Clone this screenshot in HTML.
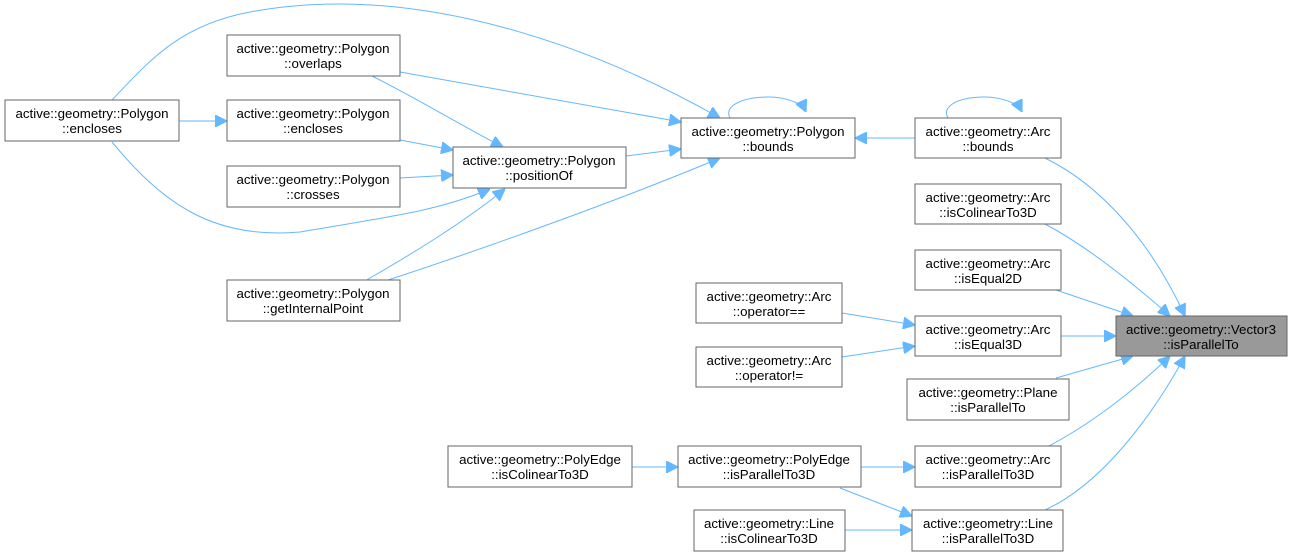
<!DOCTYPE html>
<html><head><meta charset="utf-8"><style>
html,body{margin:0;padding:0;background:#fff;}
svg{display:block;}
text{font-family:"Liberation Sans",Arial,sans-serif;font-size:13.3px;fill:#000;text-anchor:middle;}
.n{fill:#fff;stroke:#666;stroke-width:1;}
.e{fill:none;stroke:#63b8ff;stroke-width:1;}
</style></head><body>
<svg width="1293" height="556" viewBox="0 0 1293 556" xmlns="http://www.w3.org/2000/svg">
<defs><marker id="a" viewBox="0 0 10 10" refX="10" refY="5" markerWidth="12" markerHeight="12" markerUnits="userSpaceOnUse" orient="auto"><path d="M0,0 L10,5 L0,10 z" fill="#63b8ff" stroke="#63b8ff"/></marker></defs>
<g class="e">
<path d="M1045,158 C1100,185 1150,240 1185,316" marker-end="url(#a)"/>
<path d="M1045,224 C1090,248 1135,285 1170,316" marker-end="url(#a)"/>
<path d="M1056,290 L1133,316" marker-end="url(#a)"/>
<path d="M1061,336 L1116,336" marker-end="url(#a)"/>
<path d="M1056,378 L1133,356" marker-end="url(#a)"/>
<path d="M1045,448 C1090,425 1135,390 1170,356" marker-end="url(#a)"/>
<path d="M1045,510 C1100,485 1150,420 1185,356" marker-end="url(#a)"/>
<path d="M948,118 C935,95 1010,88 1022,112" marker-end="url(#a)"/>
<path d="M915,138 L855,138" marker-end="url(#a)"/>
<path d="M730,118 C718,95 795,88 806,112" marker-end="url(#a)"/>
<path d="M626,156 L681,149" marker-end="url(#a)"/>
<path d="M400,72 L681,122" marker-end="url(#a)"/>
<path d="M112,100 C150,60 180,25 250,12 C420,-20 600,50 720,118" marker-end="url(#a)"/>
<path d="M385,281 C480,250 620,200 720,158" marker-end="url(#a)"/>
<path d="M372,76 C420,100 460,125 503,147" marker-end="url(#a)"/>
<path d="M400,140 L453,150" marker-end="url(#a)"/>
<path d="M400,178 L453,175" marker-end="url(#a)"/>
<path d="M112,142 C160,200 210,240 300,232 C400,215 440,210 490,189" marker-end="url(#a)"/>
<path d="M365,281 C410,255 460,225 505,189" marker-end="url(#a)"/>
<path d="M179,121 L227,121" marker-end="url(#a)"/>
<path d="M842,313 L915,325" marker-end="url(#a)"/>
<path d="M842,357 L915,346" marker-end="url(#a)"/>
<path d="M632,467 L678,467" marker-end="url(#a)"/>
<path d="M861,467 L915,467" marker-end="url(#a)"/>
<path d="M840,488 L912,516" marker-end="url(#a)"/>
<path d="M845,530 L912,530" marker-end="url(#a)"/>
</g>
<g>
<rect class="n" x="5" y="100" width="174" height="41"/><text x="92" y="118">active::geometry::Polygon</text><text x="92" y="133">::encloses</text>
<rect class="n" x="227" y="35" width="173" height="41"/><text x="313" y="53">active::geometry::Polygon</text><text x="313" y="68">::overlaps</text>
<rect class="n" x="227" y="100" width="173" height="41"/><text x="313" y="118">active::geometry::Polygon</text><text x="313" y="133">::encloses</text>
<rect class="n" x="227" y="166" width="173" height="41"/><text x="313" y="184">active::geometry::Polygon</text><text x="313" y="199">::crosses</text>
<rect class="n" x="227" y="280" width="173" height="41"/><text x="313" y="298">active::geometry::Polygon</text><text x="313" y="313">::getInternalPoint</text>
<rect class="n" x="453" y="147" width="173" height="41"/><text x="539" y="165">active::geometry::Polygon</text><text x="539" y="180">::positionOf</text>
<rect class="n" x="681" y="118" width="174" height="40"/><text x="768" y="136">active::geometry::Polygon</text><text x="768" y="151">::bounds</text>
<rect class="n" x="915" y="118" width="146" height="40"/><text x="988" y="136">active::geometry::Arc</text><text x="988" y="151">::bounds</text>
<rect class="n" x="915" y="184" width="146" height="40"/><text x="988" y="202">active::geometry::Arc</text><text x="988" y="217">::isColinearTo3D</text>
<rect class="n" x="915" y="250" width="146" height="40"/><text x="988" y="268">active::geometry::Arc</text><text x="988" y="283">::isEqual2D</text>
<rect class="n" x="696" y="283" width="146" height="40"/><text x="769" y="301">active::geometry::Arc</text><text x="769" y="316">::operator==</text>
<rect class="n" x="915" y="316" width="146" height="40"/><text x="988" y="334">active::geometry::Arc</text><text x="988" y="349">::isEqual3D</text>
<rect class="n" x="696" y="347" width="146" height="40"/><text x="769" y="365">active::geometry::Arc</text><text x="769" y="380">::operator!=</text>
<rect class="n" x="907" y="379" width="162" height="41"/><text x="988" y="397">active::geometry::Plane</text><text x="988" y="412">::isParallelTo</text>
<rect x="1116" y="316" width="171" height="40" fill="#999" stroke="#666"/><text x="1201" y="334">active::geometry::Vector3</text><text x="1201" y="349">::isParallelTo</text>
<rect class="n" x="448" y="446" width="184" height="41"/><text x="540" y="464">active::geometry::PolyEdge</text><text x="540" y="479">::isColinearTo3D</text>
<rect class="n" x="678" y="446" width="183" height="41"/><text x="769" y="464">active::geometry::PolyEdge</text><text x="769" y="479">::isParallelTo3D</text>
<rect class="n" x="915" y="446" width="146" height="41"/><text x="988" y="464">active::geometry::Arc</text><text x="988" y="479">::isParallelTo3D</text>
<rect class="n" x="694" y="510" width="151" height="41"/><text x="769" y="528">active::geometry::Line</text><text x="769" y="543">::isColinearTo3D</text>
<rect class="n" x="912" y="510" width="151" height="41"/><text x="988" y="528">active::geometry::Line</text><text x="988" y="543">::isParallelTo3D</text>
</g>
</svg>
</body></html>
